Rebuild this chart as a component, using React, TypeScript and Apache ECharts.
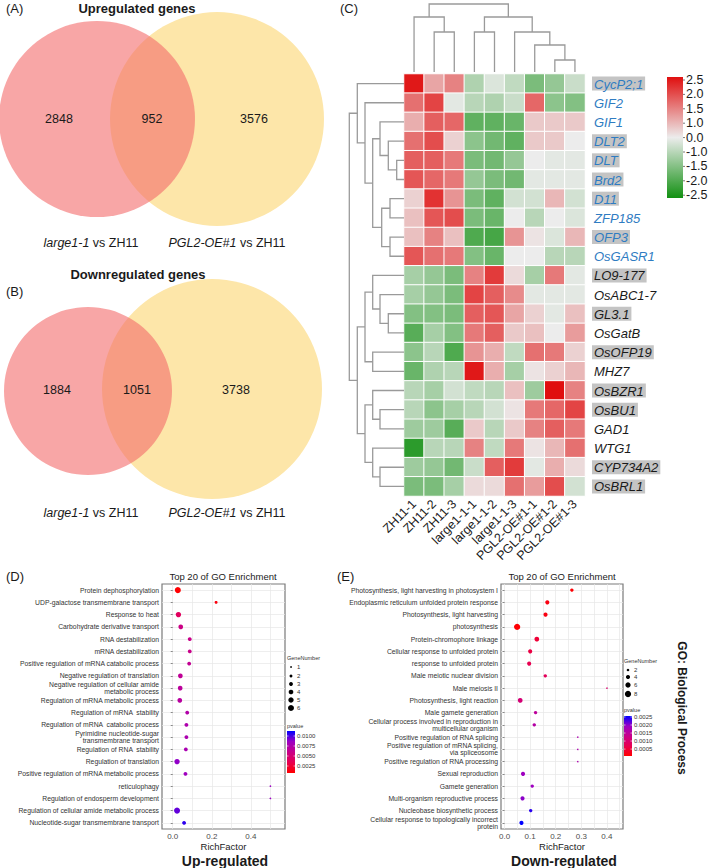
import React, { useEffect, useRef } from 'react';
import * as echarts from 'echarts';

const FONT = 'Liberation Sans, Arial, Helvetica, sans-serif';

// ---------- Venn data ----------
const vennUpCounts = [2848, 952, 3576];
const vennDownCounts = [1884, 1051, 3738];
const vennSetNames = ['large1-1', 'PGL2-OE#1'];

// ---------- Heatmap data ----------
const heatCols = ['ZH11-1', 'ZH11-2', 'ZH11-3', 'large1-1-1', 'large1-1-2', 'large1-1-3', 'PGL2-OE#1-1', 'PGL2-OE#1-2', 'PGL2-OE#1-3'];
const heatRows = ['CycP2;1', 'GIF2', 'GIF1', 'DLT2', 'DLT', 'Brd2', 'D11', 'ZFP185', 'OFP3', 'OsGASR1', 'LO9-177', 'OsABC1-7', 'GL3.1', 'OsGatB', 'OsOFP19', 'MHZ7', 'OsBZR1', 'OsBU1', 'GAD1', 'WTG1', 'CYP734A2', 'OsBRL1'];
const heatRowBlue = [1, 1, 1, 1, 1, 1, 1, 1, 1, 1, 0, 0, 0, 0, 0, 0, 0, 0, 0, 0, 0, 0];
const heatRowHighlight = [1, 0, 0, 1, 1, 1, 1, 0, 1, 0, 1, 0, 1, 0, 1, 0, 1, 1, 0, 0, 1, 1];
const heatValues = [
  [2.4, 0.8, 1.2, -0.7, -0.2, -0.5, -1.3, -1.0, -0.4],
  [1.4, 1.9, -0.1, -0.6, -0.7, -0.4, 1.5, -1.1, -1.2],
  [0.7, 1.6, 1.5, -1.6, -1.6, -1.5, 0.4, 0.4, 0.4],
  [1.4, 1.8, 0.3, -1.1, -1.4, -1.6, 0.4, 0.4, 0.0],
  [1.6, 1.6, 1.3, -1.3, -1.4, -1.0, 0.0, -0.1, -0.1],
  [1.7, 1.5, 1.3, -1.0, -1.3, -1.4, -0.1, -0.1, -0.1],
  [0.3, 2.1, 1.0, -1.3, -1.6, -0.3, -0.3, 0.6, -0.3],
  [0.5, 1.7, 1.8, -1.3, -1.5, 0.0, -0.6, 0.0, -0.2],
  [0.5, 1.2, 0.5, -1.8, -1.9, 1.0, 0.1, -0.2, 0.6],
  [1.7, 1.4, 1.3, -1.2, -1.5, 0.0, 0.0, -0.6, -0.6],
  [-0.8, -1.0, -1.3, 1.2, 2.0, 0.2, -0.8, 1.3, -0.1],
  [-0.8, -1.0, -1.3, 1.9, 1.6, 1.1, -0.1, -0.1, -0.1],
  [-1.2, -1.2, -1.3, 1.6, 1.7, 0.8, 0.3, -0.1, 0.5],
  [-1.7, -0.8, -1.2, 1.3, 1.6, 0.4, 0.5, 0.0, 0.9],
  [-1.1, -0.6, -1.8, 1.0, 0.7, -0.5, 1.4, 1.3, 0.3],
  [-1.5, -0.7, -0.6, 2.4, 0.7, -0.8, 0.1, 0.3, 0.6],
  [-0.6, -0.8, -0.3, -0.5, -0.6, 0.5, -0.9, 2.5, 1.2],
  [-0.6, -1.1, -0.8, -0.6, -0.3, 0.1, 1.3, 1.5, 1.9],
  [-0.9, -0.9, -1.7, 0.4, -0.6, 0.4, 1.2, 1.6, 1.3],
  [-2.2, -0.6, -0.6, 1.2, -0.5, 1.3, 0.1, 0.6, 1.4],
  [-0.9, -1.0, -1.4, -0.4, 1.6, 2.0, -0.1, 0.7, 0.2],
  [-1.3, -1.3, -0.8, 0.2, 0.2, 1.4, 0.9, 1.8, -0.3],
];
// dendrogram merges: [nodeA, nodeB, height]; leaves 0..n-1, merged nodes n, n+1, ...
const colTree: [number, number, number][] = [
  [1, 2, 40], [0, 9, 55], [3, 4, 40], [7, 8, 12], [6, 12, 27], [5, 13, 40], [11, 14, 55], [10, 15, 68],
];
const rowTree: [number, number, number][] = [
  [4, 5, 7.3], [3, 22, 15.7], [2, 23, 24], [6, 7, 14], [8, 9, 14], [25, 26, 22.3], [24, 27, 31.3], [1, 28, 39], [0, 29, 46.7],
  [12, 13, 15.7], [11, 31, 24], [10, 32, 31.3], [14, 15, 31.3], [33, 34, 39], [17, 18, 24], [16, 36, 31.3], [20, 21, 24], [19, 38, 31.3], [37, 39, 39], [35, 40, 46.7], [30, 41, 54.7],
];
const heatScaleLabels = ['2.5', '2.0', '1.5', '1.0', '0.0', '-1.0', '-1.5', '-2.0', '-2.5'];

// ---------- GO enrichment (up) ----------
const upTerms = [
  'Protein dephosphorylation', 'UDP-galactose transmembrane transport', 'Response to heat', 'Carbohydrate derivative transport',
  'RNA destabilization', 'mRNA destabilization', 'Positive regulation of mRNA catabolic process', 'Negative regulation of translation',
  'Negative regulation of cellular amide\nmetabolic process', 'Regulation of mRNA metabolic process', 'Regulation of mRNA  stability',
  'Regulation of mRNA  catabolic process', 'Pyrimidine nucleotide-sugar\ntransmembrane transport', 'Regulation of RNA  stability',
  'Regulation of translation', 'Positive regulation of mRNA metabolic process', 'reticulophagy', 'Regulation of endosperm development',
  'Regulation of cellular amide metabolic process', 'Nucleotide-sugar transmembrane transport',
];
const upRich = [0.026, 0.222, 0.029, 0.041, 0.087, 0.087, 0.084, 0.039, 0.038, 0.036, 0.074, 0.07, 0.07, 0.067, 0.022, 0.065, 0.5, 0.5, 0.022, 0.058];
const upGenes = [6, 2, 5, 4, 3, 3, 3, 4, 4, 4, 3, 3, 3, 3, 5, 3, 1, 1, 6, 3];
const upP = [0.0008, 0.0012, 0.004, 0.0058, 0.006, 0.006, 0.0064, 0.0066, 0.0068, 0.007, 0.0074, 0.0076, 0.0077, 0.0078, 0.0088, 0.0084, 0.0086, 0.0086, 0.0096, 0.0105];
const upGeneLegend = [1, 2, 3, 4, 5, 6];
const upPLegend = [0.01, 0.0075, 0.005, 0.0025];

// ---------- GO enrichment (down) ----------
const downTerms = [
  'Photosynthesis, light harvesting in photosystem I', 'Endoplasmic reticulum unfolded protein response', 'Photosynthesis, light harvesting',
  'photosynthesis', 'Protein-chromophore linkage', 'Cellular response to unfolded protein', 'response to unfolded protein',
  'Male meiotic nuclear division', 'Male meiosis II', 'Photosynthesis, light reaction', 'Male gamete generation',
  'Cellular process involved in reproduction in\nmulticellular organism', 'Positive regulation of RNA splicing',
  'Positive regulation of mRNA splicing,\nvia spliceosome', 'Positive regulation of RNA processing', 'Sexual reproduction',
  'Gamete generation', 'Multi-organism reproductive process', 'Nucleobase biosynthetic process',
  'Cellular response to topologically incorrect\nprotein',
];
const downRich = [0.263, 0.167, 0.16, 0.049, 0.126, 0.1, 0.096, 0.159, 0.4, 0.061, 0.121, 0.116, 0.286, 0.286, 0.286, 0.072, 0.108, 0.07, 0.102, 0.066];
const downGenes = [3, 4, 4, 8, 5, 4, 4, 3, 1, 5, 3, 3, 1, 1, 1, 4, 3, 4, 3, 4];
const downP = [0.0001, 0.0002, 0.0002, 0.0001, 0.0005, 0.0006, 0.0007, 0.0008, 0.001, 0.0011, 0.0015, 0.0016, 0.0017, 0.0017, 0.0017, 0.0019, 0.0019, 0.002, 0.0024, 0.0026];
const downGeneLegend = [2, 4, 6, 8];
const downPLegend = [0.0025, 0.002, 0.0015, 0.001, 0.0005];

const pColors = ['#ff0000', '#e80050', '#c90089', '#9c00c4', '#0000ff'];

function dendroLines(n: number, merges: [number, number, number][], horizontal: boolean) {
  const pos: number[] = [];
  const ht: number[] = [];
  for (let i = 0; i < n; i++) { pos.push(i); ht.push(0); }
  const out: any[] = [];
  merges.forEach(([a, b, h]) => {
    const pts = [[pos[a], ht[a]], [pos[a], h], [pos[b], h], [pos[b], ht[b]]];
    out.push({ coords: horizontal ? pts.map(([p, v]) => [v, p]) : pts });
    pos.push((pos[a] + pos[b]) / 2);
    ht.push(h);
  });
  return out;
}

const upSize = (n: number) => 1.7 + 4.3 * (Math.sqrt(n) - 1) / (Math.sqrt(6) - 1);
const downSize = (n: number) => 1.5 + 4.8 * (Math.sqrt(n) - 1) / (Math.sqrt(8) - 1);

function txt(x: number, y: number, text: string, extra: any = {}) {
  return {
    type: 'text', x, y, silent: true,
    style: { text, fill: '#1a1a1a', fontFamily: FONT, fontSize: 12, align: 'left', verticalAlign: 'middle', ...extra },
  };
}

function vennGraphics(counts: number[], c1: number[], c2: number[], numY: number, numX: number[], labelY: number) {
  return [
    { type: 'circle', silent: true, shape: { cx: c2[0], cy: c2[1], r: c2[2] }, style: { fill: '#fde6a9' } },
    { type: 'circle', silent: true, shape: { cx: c1[0], cy: c1[1], r: c1[2] }, style: { fill: 'rgba(244,106,106,0.6)' } },
    ...counts.map((c, i) => txt(numX[i], numY, String(c), { align: 'center', fontSize: 12.5 })),
    txt(91, labelY, `{i|${vennSetNames[0]}} vs ZH11`, { align: 'center', fontSize: 12.5, rich: { i: { fontStyle: 'italic', fontSize: 12.5, fontFamily: FONT, fill: '#1a1a1a' } } }),
    txt(227, labelY, `{i|${vennSetNames[1]}} vs ZH11`, { align: 'center', fontSize: 12.5, rich: { i: { fontStyle: 'italic', fontSize: 12.5, fontFamily: FONT, fill: '#1a1a1a' } } }),
  ];
}

function goLegend(x: number, geneY: number, genes: number[], yDots: number[], sizeFn: (n: number) => number,
  pTitleY: number, barTop: number, barH: number, pMin: number, pMax: number, pTicks: number[]) {
  const g: any[] = [];
  g.push(txt(x, geneY, 'GeneNumber', { fontSize: 5.5, fill: '#333' }));
  genes.forEach((n, i) => {
    g.push({ type: 'circle', silent: true, shape: { cx: x + 4, cy: yDots[i], r: sizeFn(n) / 2 }, style: { fill: '#000' } });
    g.push(txt(x + 10, yDots[i], String(n), { fontSize: 6, fill: '#333' }));
  });
  g.push(txt(x, pTitleY, 'pvalue', { fontSize: 5.5, fill: '#333' }));
  g.push({
    type: 'rect', silent: true, shape: { x, y: barTop, width: 8, height: barH },
    style: { fill: new echarts.graphic.LinearGradient(0, 0, 0, 1, pColors.slice().reverse().map((c, i) => ({ offset: i / (pColors.length - 1), color: c }))) },
  });
  pTicks.forEach((v) => {
    const y = barTop + (pMax - v) / (pMax - pMin) * barH;
    g.push({ type: 'line', silent: true, shape: { x1: x, y1: y, x2: x + 1.5, y2: y }, style: { stroke: '#fff', lineWidth: 0.6 } });
    g.push({ type: 'line', silent: true, shape: { x1: x + 6.5, y1: y, x2: x + 8, y2: y }, style: { stroke: '#fff', lineWidth: 0.6 } });
    g.push(txt(x + 10, y, v.toFixed(4), { fontSize: 6, fill: '#333' }));
  });
  return g;
}

function goAxes(gridIndex: number, terms: string[], min: number, max: number, labelVals: number[], lineVals: number[]) {
  const idx = terms.map((_, i) => i);
  const xAxis = {
    type: 'value', gridIndex, min, max,
    axisLine: { show: false },
    axisTick: { show: false, customValues: lineVals },
    axisLabel: { customValues: labelVals, formatter: (v: number) => v.toFixed(1), fontSize: 8, color: '#4d4d4d', margin: 3, fontFamily: FONT },
    splitLine: { show: true, lineStyle: { color: '#e6e6e6', width: 0.7 } },
    name: 'RichFactor', nameLocation: 'middle', nameGap: 12,
    nameTextStyle: { fontSize: 9.5, color: '#222', fontFamily: FONT },
  };
  const yAxis = {
    type: 'value', gridIndex, min: -0.5, max: terms.length - 0.5, inverse: true,
    axisLine: { show: false },
    axisTick: { show: true, customValues: idx, length: 2, lineStyle: { color: '#444', width: 0.6 } },
    axisLabel: {
      customValues: idx, formatter: (v: number) => terms[Math.round(v)], fontSize: 6.8, lineHeight: 6.8,
      color: '#333', margin: 3, fontFamily: FONT,
    },
    splitLine: { show: true, lineStyle: { color: '#e6e6e6', width: 0.7 } },
  };
  return { xAxis, yAxis };
}

export default function App() {
  const ref = useRef<HTMLDivElement>(null);
  useEffect(() => {
    if (!ref.current) return;
    const chart = echarts.init(ref.current, undefined, { renderer: 'svg', width: 709, height: 868 });

    const heatData: number[][] = [];
    heatValues.forEach((row, r) => row.forEach((v, c) => heatData.push([c, r, v])));

    const upAx = goAxes(3, upTerms, -0.055, 0.575, [0, 0.2, 0.4], [0, 0.1, 0.2, 0.3, 0.4, 0.5]);
    const downAx = goAxes(4, downTerms, -0.014, 0.463, [0, 0.1, 0.2, 0.3, 0.4], [0, 0.05, 0.1, 0.15, 0.2, 0.25, 0.3, 0.35, 0.4, 0.45]);

    const richRow: any = {};
    [['bh', '#2f7cc2', '#c4c4c4'], ['bn', '#2f7cc2', 'transparent'], ['kh', '#1a1a1a', '#c4c4c4'], ['kn', '#1a1a1a', 'transparent']].forEach(([k, c, bg]) => {
      richRow[k] = { color: c, backgroundColor: bg, fontStyle: 'italic', fontSize: 13, fontFamily: FONT, padding: [1, 2, 0, 2] };
    });

    const graphic: any[] = [
      txt(6, 8, '(A)', { fontSize: 13 }),
      txt(137, 8, 'Upregulated genes', { align: 'center', fontSize: 13, fontWeight: 'bold' }),
      ...vennGraphics(vennUpCounts, [97, 119, 98], [217, 119, 107], 119, [59, 152, 254], 243),
      txt(138, 274, 'Downregulated genes', { align: 'center', fontSize: 13, fontWeight: 'bold' }),
      txt(6, 291, '(B)', { fontSize: 13 }),
      ...vennGraphics(vennDownCounts, [88, 391, 84], [212, 389, 110], 390, [57, 137, 236], 513),
      txt(340, 8, '(C)', { fontSize: 13 }),
      {
        type: 'rect', silent: true, shape: { x: 667, y: 77, width: 16, height: 121 },
        style: { fill: new echarts.graphic.LinearGradient(0, 0, 0, 1, [{ offset: 0, color: '#e00f0f' }, { offset: 0.5, color: '#ececec' }, { offset: 1, color: '#129012' }]) },
      },
      ...heatScaleLabels.flatMap((l, i) => [
        { type: 'line', silent: true, shape: { x1: 683, y1: 80 + i * 14.4, x2: 685, y2: 80 + i * 14.4 }, style: { stroke: '#555', lineWidth: 0.8 } },
        txt(686, 80 + i * 14.4, l, { fontSize: 12.5 }),
      ]),
      txt(6, 576, '(D)', { fontSize: 13 }),
      txt(337, 576, '(E)', { fontSize: 13 }),
      txt(223, 576, 'Top 20 of GO Enrichment', { align: 'center', fontSize: 9.5, fill: '#222' }),
      txt(562, 576, 'Top 20 of GO Enrichment', { align: 'center', fontSize: 9.5, fill: '#222' }),
      ...goLegend(287, 658, upGeneLegend, [667, 676, 684, 692, 700, 708], upSize, 726, 731, 42, 0.00075, 0.01125, upPLegend),
      ...goLegend(624, 661, downGeneLegend, [670, 677, 685, 694], downSize, 710, 716, 40, 0.00007, 0.00256, downPLegend),
      { ...txt(682, 708, 'GO: Biological Process', { align: 'center', fontSize: 12, fontWeight: 'bold' }), rotation: -Math.PI / 2 },
      txt(225, 861, 'Up-regulated', { align: 'center', fontSize: 14, fontWeight: 'bold' }),
      txt(564, 861, 'Down-regulated', { align: 'center', fontSize: 14, fontWeight: 'bold' }),
    ];

    chart.setOption({
      animation: false,
      backgroundColor: '#fff',
      textStyle: { fontFamily: FONT },
      grid: [
        { left: 404, top: 74, width: 181, height: 422 },
        { left: 404, top: 0, width: 181, height: 72 },
        { left: 349, top: 74, width: 55, height: 422 },
        { left: 162, top: 584, width: 123, height: 245, show: true, borderColor: '#7a7a7a', borderWidth: 1.2, backgroundColor: '#fff' },
        { left: 501, top: 584, width: 122, height: 245, show: true, borderColor: '#7a7a7a', borderWidth: 1.2, backgroundColor: '#fff' },
      ],
      xAxis: [
        {
          type: 'category', gridIndex: 0, data: heatCols, position: 'bottom',
          axisLine: { show: false }, axisTick: { show: false },
          axisLabel: { rotate: 45, interval: 0, fontSize: 12.5, color: '#1a1a1a', margin: 6, fontFamily: FONT },
        },
        { type: 'value', gridIndex: 1, min: -0.5, max: 8.5, show: false },
        { type: 'value', gridIndex: 2, min: 0, max: 55, inverse: true, show: false },
        upAx.xAxis,
        downAx.xAxis,
      ],
      yAxis: [
        {
          type: 'category', gridIndex: 0, data: heatRows, position: 'right', inverse: true,
          axisLine: { show: false }, axisTick: { show: false },
          axisLabel: {
            interval: 0, margin: 7,
            formatter: (v: string, i: number) => `{${heatRowBlue[i] ? 'b' : 'k'}${heatRowHighlight[i] ? 'h' : 'n'}|${v}}`,
            rich: richRow,
          },
        },
        { type: 'value', gridIndex: 1, min: 0, max: 72, show: false },
        { type: 'value', gridIndex: 2, min: -0.5, max: 21.5, inverse: true, show: false },
        upAx.yAxis,
        downAx.yAxis,
      ],
      visualMap: [
        { type: 'continuous', show: false, seriesIndex: 0, dimension: 2, min: -2.5, max: 2.5, inRange: { color: ['#129012', '#ececec', '#e00f0f'] } },
        { type: 'continuous', show: false, seriesIndex: 3, dimension: 3, min: 0.00075, max: 0.01125, inRange: { color: pColors } },
        { type: 'continuous', show: false, seriesIndex: 4, dimension: 3, min: 0.00007, max: 0.00256, inRange: { color: pColors } },
      ],
      series: [
        {
          type: 'heatmap', xAxisIndex: 0, yAxisIndex: 0, data: heatData,
          itemStyle: { borderColor: '#fff', borderWidth: 1 }, emphasis: { disabled: true },
        },
        {
          type: 'lines', coordinateSystem: 'cartesian2d', xAxisIndex: 1, yAxisIndex: 1, polyline: true, silent: true,
          data: dendroLines(heatCols.length, colTree, false), lineStyle: { color: '#9a9a9a', width: 1.3, opacity: 1 },
        },
        {
          type: 'lines', coordinateSystem: 'cartesian2d', xAxisIndex: 2, yAxisIndex: 2, polyline: true, silent: true,
          data: dendroLines(heatRows.length, rowTree, true), lineStyle: { color: '#9a9a9a', width: 1.3, opacity: 1 },
        },
        {
          type: 'scatter', xAxisIndex: 3, yAxisIndex: 3, symbol: 'circle',
          data: upTerms.map((_, i) => [upRich[i], i, upGenes[i], upP[i]]),
          symbolSize: (d: number[]) => upSize(d[2]), itemStyle: { opacity: 1 },
        },
        {
          type: 'scatter', xAxisIndex: 4, yAxisIndex: 4, symbol: 'circle',
          data: downTerms.map((_, i) => [downRich[i], i, downGenes[i], downP[i]]),
          symbolSize: (d: number[]) => downSize(d[2]), itemStyle: { opacity: 1 },
        },
      ],
      graphic,
    });
    return () => chart.dispose();
  }, []);
  return <div ref={ref} style={{ position: 'absolute', left: 0, top: 0, width: 709, height: 868 }} />;
}
